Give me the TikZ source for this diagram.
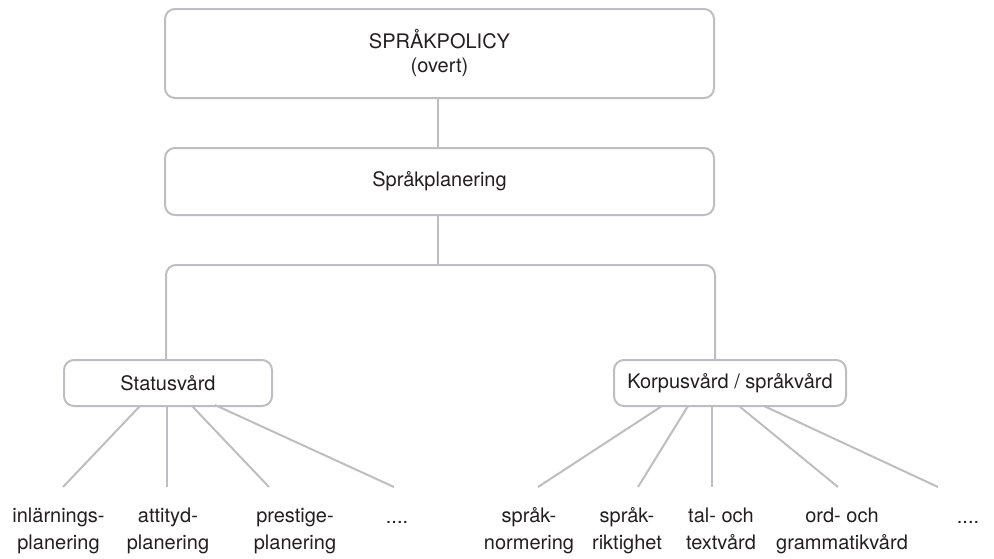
\documentclass[tikz,border=0pt]{standalone}
\usepackage{fontspec}
\setmainfont{TeX Gyre Heros}
\definecolor{linegray}{RGB}{190,190,194}
\definecolor{ink}{RGB}{35,31,32}
\begin{document}
\begin{tikzpicture}[x=1pt,y=-1pt,
  box/.style={draw=linegray, line width=2pt, rounded corners=10pt, inner sep=0pt,
    align=center, text=ink, font=\fontsize{20}{24}\selectfont},
  conn/.style={draw=linegray, line width=2pt},
  leaf/.style={inner sep=0pt, align=center, text=ink, font=\fontsize{20}{27}\selectfont}]
\useasboundingbox (0,0) rectangle (994,558);

% hierarchy boxes
\node[box, minimum width=549pt, minimum height=89pt] (policy) at (439.5,53.5) {SPRÅKPOLICY\\(overt)};
\node[box, minimum width=549pt, minimum height=67pt] (plan) at (439.5,181.5) {Språkplanering};
\node[box, minimum width=208pt, minimum height=46pt] (status) at (168,383) {Statusvård};
\node[box, minimum width=232pt, minimum height=46pt] (korpus) at (730,383) {Korpusvård / språkvård};

% trunk and branching
\coordinate (jn) at (438,265);
\coordinate (stop) at (166,360);
\coordinate (ktop) at (715,360);
\draw[conn] (policy.south -| jn) -- (plan.north -| jn);
\draw[conn] (plan.south -| jn) -- (jn);
\draw[conn, rounded corners=10pt] (stop) |- (jn) -| (ktop);

% leaf labels
\node[leaf] (l1) at (58.5,531) {\strut inlärnings-\\\strut planering};
\node[leaf] (l2) at (168,531) {\strut attityd-\\\strut planering};
\node[leaf] (l3) at (295,531) {\strut prestige-\\\strut planering};
\node[leaf, anchor=base] (l4) at (397,523) {....};
\node[leaf] (r1) at (529,531) {\strut språk-\\\strut normering};
\node[leaf] (r2) at (627,531) {\strut språk-\\\strut riktighet};
\node[leaf] (r3) at (721,531) {\strut tal- och\\\strut textvård};
\node[leaf] (r4) at (842,531) {\strut ord- och\\\strut grammatikvård};
\node[leaf, anchor=base] (r5) at (968,523) {....};

% fan-out from Statusvård
\coordinate (sa1) at (140,406); \coordinate (se1) at (63,487);
\coordinate (sa2) at (167,406); \coordinate (se2) at (167,487);
\coordinate (sa3) at (192,406); \coordinate (se3) at (269,487);
\coordinate (sa4) at (215,405); \coordinate (se4) at (394,487);
\foreach \i in {1,...,4} \draw[conn] (sa\i) -- (se\i);

% fan-out from Korpusvård
\coordinate (ka1) at (662,406); \coordinate (ke1) at (538,487);
\coordinate (ka2) at (688,406); \coordinate (ke2) at (638,487);
\coordinate (ka3) at (712,406); \coordinate (ke3) at (712,487);
\coordinate (ka4) at (739,406); \coordinate (ke4) at (838,487);
\coordinate (ka5) at (764,406); \coordinate (ke5) at (938,487);
\foreach \i in {1,...,5} \draw[conn] (ka\i) -- (ke\i);
\end{tikzpicture}
\end{document}
